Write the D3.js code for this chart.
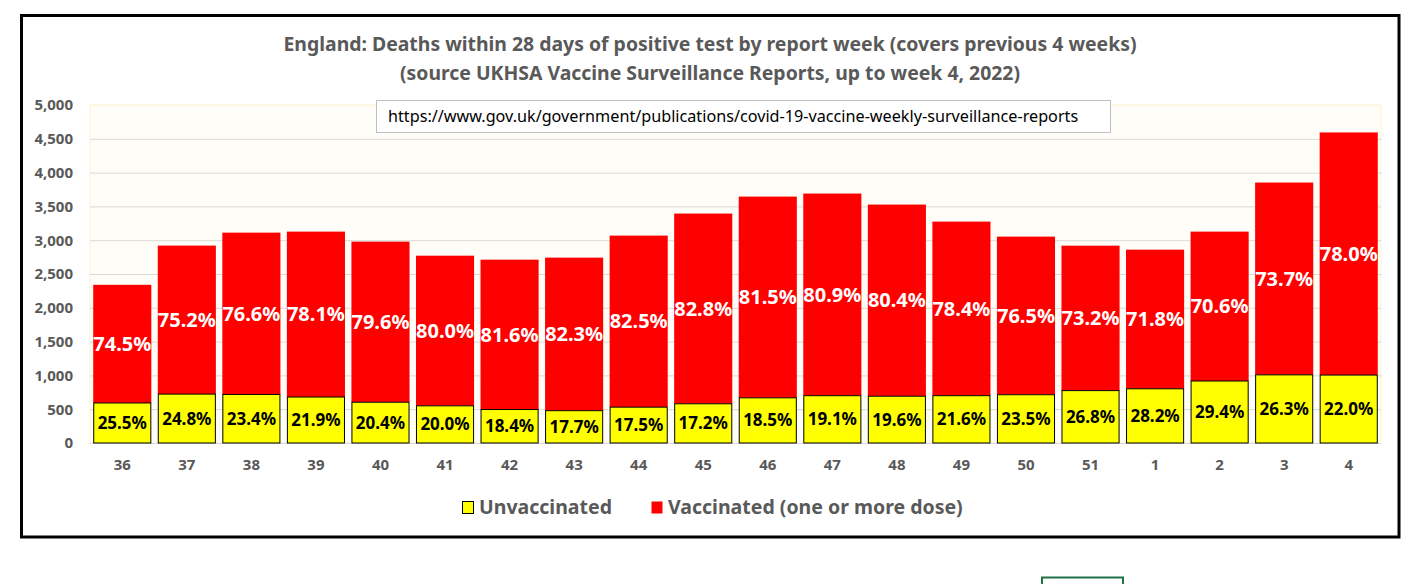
<!DOCTYPE html>
<html lang="en">
<head>
	<script src="https://cdnjs.cloudflare.com/ajax/libs/d3/7.8.5/d3.min.js"></script>
	<style>
		body{
			margin: 0;
			background: #ffffff;
		}
		text{
			font-family: "Noto Sans", "Open Sans", sans-serif;
		}
	</style>
</head>
<body>
<svg id="chart" width="1424" height="584"></svg>

<script>

	// report weeks
	const weeks = ["36","37","38","39","40","41","42","43","44","45","46","47","48","49","50","51","1","2","3","4"];
	// deaths, unvaccinated / vaccinated (one or more dose)
	const unvaccinated = [592,723,718,680,603,550,495,478,530,580,668,700,692,700,714,775,802,917,1008,1005];
	const vaccinated = [1748,2197,2394,2447,2376,2221,2217,2264,2538,2814,2977,2990,2835,2575,2339,2144,2058,2210,2845,3589];
	// label percentages
	const unvacPct = ["25.5%","24.8%","23.4%","21.9%","20.4%","20.0%","18.4%","17.7%","17.5%","17.2%","18.5%","19.1%","19.6%","21.6%","23.5%","26.8%","28.2%","29.4%","26.3%","22.0%"];
	const vacPct = ["74.5%","75.2%","76.6%","78.1%","79.6%","80.0%","81.6%","82.3%","82.5%","82.8%","81.5%","80.9%","80.4%","78.4%","76.5%","73.2%","71.8%","70.6%","73.7%","78.0%"];
	const yTicks = [0,500,1000,1500,2000,2500,3000,3500,4000,4500,5000];

	const titleLines = [
		"England: Deaths within 28 days of positive test by report week (covers previous 4 weeks)",
		"(source UKHSA Vaccine Surveillance Reports, up to week 4, 2022)"
	];
	const url = "https://www.gov.uk/government/publications/covid-19-vaccine-weekly-surveillance-reports";

	const grey = "#595959";
	const plot = {left: 90, right: 1381, top: 105, bottom: 443};

	const svg = d3.select('#chart');

	// outer frame
	svg.append("rect")
			.attr("x", 21.5).attr("y", 15.5)
			.attr("width", 1377.5).attr("height", 521.5)
			.attr("fill", "#ffffff")
			.attr("stroke", "#000000")
			.attr("stroke-width", 3);

	// bit of excel selection peeking in at the bottom
	svg.append("rect")
			.attr("x", 1042).attr("y", 577.5)
			.attr("width", 81).attr("height", 20)
			.attr("fill", "none")
			.attr("stroke", "#217346")
			.attr("stroke-width", 2);

	const xScale = d3.scaleBand()
			.domain(weeks)
			.range([plot.left, plot.right])
			.paddingInner(0.1)
			.paddingOuter(0.05);

	const yScale = d3.scaleLinear()
			.domain([0, 5000])
			.range([plot.bottom, plot.top]);

	// plot background
	svg.append("rect")
			.attr("x", plot.left).attr("y", plot.top)
			.attr("width", plot.right - plot.left)
			.attr("height", plot.bottom - plot.top)
			.attr("fill", "#fffdf7")
			.attr("stroke", "#fff2cc");

	// gridlines
	svg.append("g")
			.selectAll("line")
			.data(yTicks.slice(1, -1))
			.enter()
			.append("line")
			.attr("x1", plot.left).attr("x2", plot.right)
			.attr("y1", d => yScale(d) + 0.5).attr("y2", d => yScale(d) + 0.5)
			.attr("stroke", "#d9d9d9");

	// y axis
	const yAxis = svg.append("g")
			.attr("transform", `translate(${plot.left},0)`)
			.call(d3.axisLeft(yScale).tickValues(yTicks).tickFormat(d3.format(",")).tickSize(0).tickPadding(17));
	yAxis.select(".domain").remove();
	yAxis.selectAll("text")
			.attr("font-family", "Noto Sans")
			.attr("font-size", "15px")
			.attr("font-weight", "bold")
			.attr("fill", grey);

	// x axis
	const xAxis = svg.append("g")
			.attr("transform", `translate(0,${plot.bottom})`)
			.call(d3.axisBottom(xScale).tickSize(0).tickPadding(16));
	xAxis.select(".domain")
			.attr("stroke", "#d9d9d9")
			.attr("d", `M${plot.left},0.5H${plot.right}`);
	xAxis.selectAll("text")
			.attr("font-family", "Noto Sans")
			.attr("font-size", "15px")
			.attr("font-weight", "bold")
			.attr("fill", grey);

	const barGroup = svg.selectAll(".bar")
			.data(weeks)
			.enter()
			.append("g");

	// vaccinated (stacked on top)
	barGroup.append("rect")
			.attr("x", (d, i) => xScale(d))
			.attr("width", xScale.bandwidth())
			.attr("y", (d, i) => yScale(unvaccinated[i] + vaccinated[i]))
			.attr("height", (d, i) => yScale(unvaccinated[i]) - yScale(unvaccinated[i] + vaccinated[i]))
			.attr("fill", "#ff0000");

	// unvaccinated
	barGroup.append("rect")
			.attr("x", (d, i) => xScale(d) + 0.5)
			.attr("width", xScale.bandwidth() - 1)
			.attr("y", (d, i) => yScale(unvaccinated[i]))
			.attr("height", (d, i) => yScale(0) - yScale(unvaccinated[i]))
			.attr("fill", "#ffff00")
			.attr("stroke", "#000000")
			.attr("stroke-width", 1);

	barGroup.append("text")
			.text((d, i) => vacPct[i])
			.attr("x", d => xScale(d) + xScale.bandwidth() / 2)
			.attr("y", (d, i) => (yScale(unvaccinated[i]) + yScale(unvaccinated[i] + vaccinated[i])) / 2)
			.attr("dy", "0.35em")
			.attr("font-size", "20px")
			.attr("font-weight", "bold")
			.attr("fill", "#ffffff")
			.attr("text-anchor", "middle");

	barGroup.append("text")
			.text((d, i) => unvacPct[i])
			.attr("x", d => xScale(d) + xScale.bandwidth() / 2)
			.attr("y", (d, i) => (yScale(0) + yScale(unvaccinated[i])) / 2)
			.attr("dy", "0.35em")
			.attr("font-size", "17px")
			.attr("font-weight", "bold")
			.attr("fill", "#000000")
			.attr("text-anchor", "middle");

	// title
	svg.append("g")
			.selectAll("text")
			.data(titleLines)
			.enter()
			.append("text")
			.text(d => d)
			.attr("x", 710)
			.attr("y", (d, i) => 51 + i * 29)
			.attr("font-size", "19.4px")
			.attr("font-weight", "bold")
			.attr("fill", grey)
			.attr("text-anchor", "middle");

	// url box
	svg.append("rect")
			.attr("x", 376.5).attr("y", 100.5)
			.attr("width", 734).attr("height", 32)
			.attr("fill", "#ffffff")
			.attr("stroke", "#bfbfbf");
	svg.append("text")
			.text(url)
			.attr("x", 388)
			.attr("y", 122)
			.attr("font-size", "16.2px")
			.attr("fill", "#000000");

	// legend
	const legendItems = [
		{label: "Unvaccinated", fill: "#ffff00", stroke: "#000000", x: 462},
		{label: "Vaccinated (one or more dose)", fill: "#ff0000", stroke: "none", x: 651}
	];
	const legend = svg.append("g")
			.selectAll("g")
			.data(legendItems)
			.enter()
			.append("g")
			.attr("transform", d => `translate(${d.x},0)`);
	legend.append("rect")
			.attr("x", 0.5).attr("y", 501.5)
			.attr("width", 11).attr("height", 12)
			.attr("fill", d => d.fill)
			.attr("stroke", d => d.stroke);
	legend.append("text")
			.text(d => d.label)
			.attr("x", 17)
			.attr("y", 514)
			.attr("font-size", "19.5px")
			.attr("font-weight", "bold")
			.attr("fill", grey);

</script>
</body>
</html>
